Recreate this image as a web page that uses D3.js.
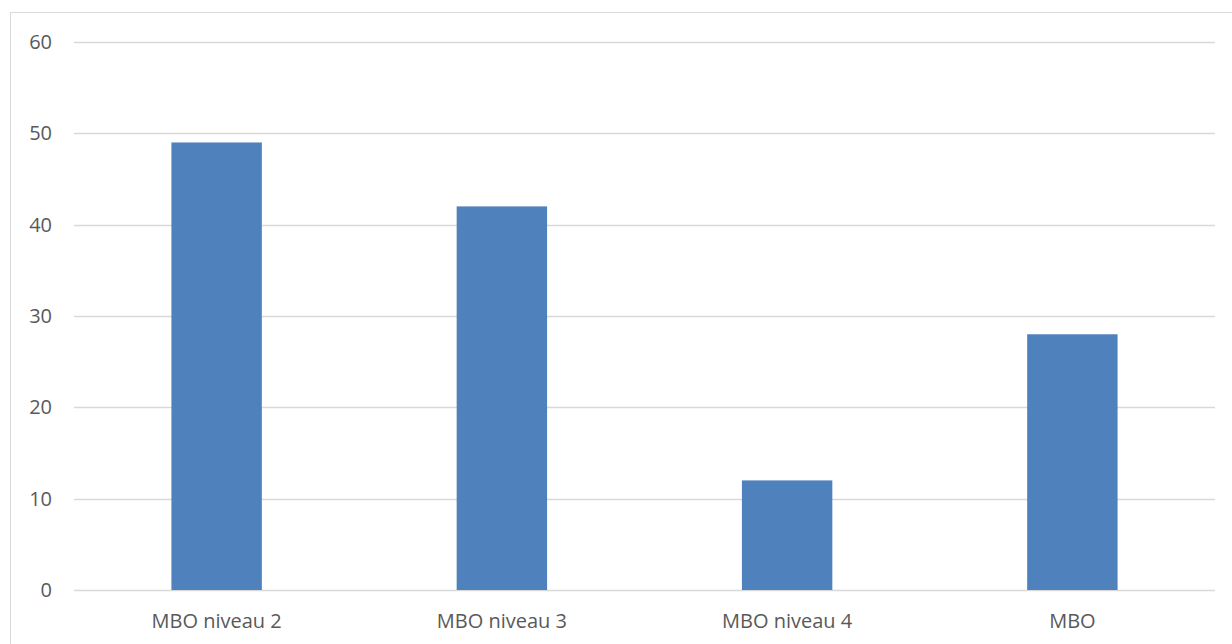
<!DOCTYPE html>
<html>
<head>
<meta charset="utf-8">
<script src="https://cdn.jsdelivr.net/npm/d3@7"></script>
<style>
  html, body { margin: 0; padding: 0; background: #fff; }
  svg { display: block; }
  text { font-family: "Open Sans", "Noto Sans", sans-serif; fill: #595959; }
</style>
</head>
<body>
<svg id="chart" width="1232" height="644"></svg>
<script>
const categories = ["MBO niveau 2", "MBO niveau 3", "MBO niveau 4", "MBO"];
const values = [49, 42, 12, 28];
const yTicks = [0, 10, 20, 30, 40, 50, 60];

const width = 1232, height = 644;
const margin = { top: 42, right: 17, bottom: 54, left: 74 };
const svg = d3.select("#chart");

// chart frame
svg.append("rect")
  .attr("x", 10.5).attr("y", 12.5)
  .attr("width", 1240).attr("height", 660)
  .attr("fill", "none").attr("stroke", "#d9d9d9").attr("stroke-width", 1);

const x = d3.scaleBand()
  .domain(categories)
  .range([margin.left, width - margin.right])
  .paddingInner(0.683)
  .paddingOuter(0.3415);

const y = d3.scaleLinear()
  .domain([0, 60])
  .range([height - margin.bottom, margin.top]);

// horizontal gridlines
svg.append("g")
  .selectAll("line")
  .data(yTicks)
  .join("line")
  .attr("x1", margin.left).attr("x2", width - margin.right)
  .attr("y1", d => Math.round(y(d)) + 0.5).attr("y2", d => Math.round(y(d)) + 0.5)
  .attr("stroke", "#d9d9d9").attr("stroke-width", 1.3);

// bars
svg.append("g")
  .selectAll("rect")
  .data(values)
  .join("rect")
  .attr("x", (d, i) => x(categories[i]))
  .attr("y", d => y(d))
  .attr("width", x.bandwidth())
  .attr("height", d => y(0) - y(d))
  .attr("fill", "#4f81bd");

// y axis labels
const yAxis = d3.axisLeft(y).tickValues(yTicks).tickSize(0).tickPadding(22);
const gy = svg.append("g").attr("transform", `translate(${margin.left},0)`).call(yAxis);
gy.select(".domain").remove();
gy.selectAll("text").style("font-size", "20px").style("font-family", null).attr("fill", "#595959");

// category labels
const xAxis = d3.axisBottom(x).tickSize(0).tickPadding(24);
const gx = svg.append("g").attr("transform", `translate(0,${height - margin.bottom})`).call(xAxis);
gx.select(".domain").remove();
gx.selectAll("text").style("font-size", "20px").attr("fill", "#595959");
gx.selectAll("text").attr("dy", "0.71em");
</script>
</body>
</html>
